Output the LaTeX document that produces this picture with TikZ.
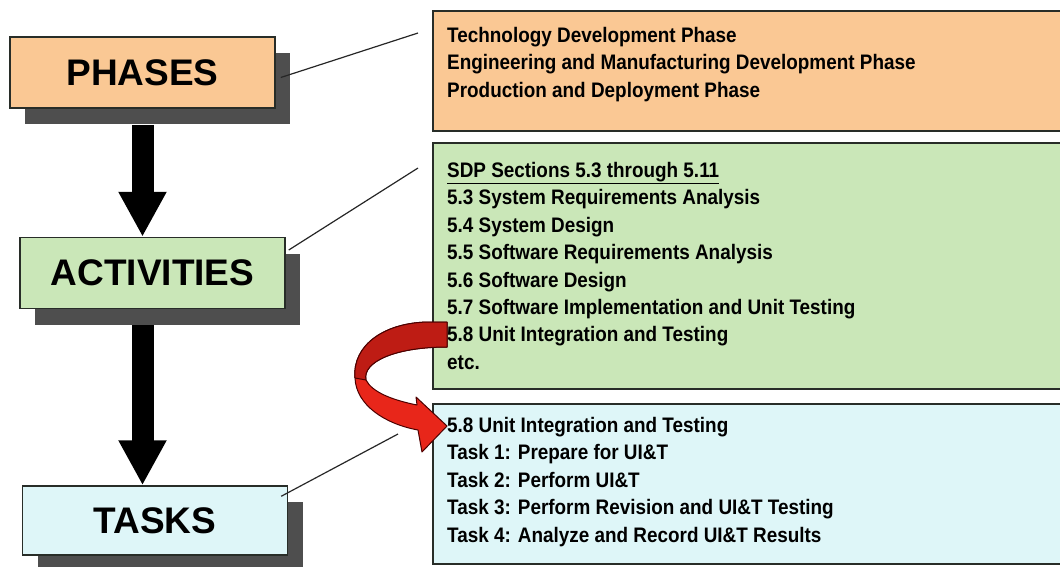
\documentclass[tikz,border=0pt]{standalone}
\usepackage{fontspec}
\setmainfont{Liberation Sans}[FakeStretch=0.9]
\newfontfamily\labelfont{Liberation Sans}
\usetikzlibrary{%
  arrows.meta,%
  shadows%
}
\definecolor{phaseorange}{RGB}{250,200,148}
\definecolor{actgreen}{RGB}{202,231,184}
\definecolor{taskblue}{RGB}{222,246,248}
\definecolor{shadowgray}{RGB}{78,78,78}
\definecolor{arrowred}{RGB}{232,38,26}
\definecolor{arrowdark}{RGB}{190,28,20}
\definecolor{boxline}{RGB}{40,45,40}

\begin{document}
\begin{tikzpicture}[x=1pt,y=-1pt,
    levelbox/.style={draw=boxline,line width=1.5pt,minimum width=265pt,minimum height=71pt,
      font=\labelfont\bfseries\fontsize{37}{40}\selectfont,
      drop shadow={shadow xshift=15pt,shadow yshift=-16pt,fill=shadowgray,opacity=1}},
    listbox/.style={draw=boxline,line width=2pt,anchor=north west,minimum width=640pt,inner sep=0pt},
    listtext/.style={anchor=north west,inner sep=0pt,align=left,
      font=\bfseries\fontsize{21}{27.4}\selectfont},
    leader/.style={line width=1.2pt,draw=black!85},
    bigarrow/.style={line width=22pt,-{Triangle[width=45pt,length=45pt]}},
    ribbon/.style={draw=black!70!red,line width=1pt,line join=round}]
  \useasboundingbox (0,0) rectangle (1060,566);
  \node[levelbox,fill=phaseorange] (phases) at (142.5,72.5) {PHASES};
  \node[levelbox,fill=actgreen] (activities) at (152.5,273) {ACTIVITIES};
  \node[levelbox,fill=taskblue,minimum height=69pt] (tasks) at (155,520.5) {TASKS};
  \node[listbox,fill=phaseorange,minimum height=120pt] (phasebox) at (432,10) {};
  \node[listbox,fill=actgreen,minimum height=246pt] (actbox) at (432,142) {};
  \node[listbox,fill=taskblue,minimum height=160pt] (taskbox) at (432,403) {};
  \node[listtext] (phaselist) at (447,27) {Technology Development Phase\\
    Engineering and Manufacturing Development Phase\\
    Production and Deployment Phase};
  \node[listtext] (actlist) at (447,162) {\underline{SDP Sections 5.3 through 5.11}\\
    5.3 System Requirements Analysis\\
    5.4 System Design\\
    5.5 Software Requirements Analysis\\
    5.6 Software Design\\
    5.7 Software Implementation and Unit Testing\\
    5.8 Unit Integration and Testing\\
    etc.};
  \node[listtext] (tasklist) at (447,417) {5.8 Unit Integration and Testing\\
    Task 1: Prepare for UI\&T\\
    Task 2: Perform UI\&T\\
    Task 3: Perform Revision and UI\&T Testing\\
    Task 4: Analyze and Record UI\&T Results};
  \coordinate (phaseend) at (418,33);
  \coordinate (actend) at (418,168);
  \coordinate (taskend) at (398,434);
  \draw[leader] ([shift={(5pt,-5pt)}]phases.east) -- (phaseend);
  \draw[leader] ([shift={(3pt,23pt)}]activities.east) -- (actend);
  \draw[leader] ([shift={(-7pt,-11pt)}]tasks.north east) -- (taskend);
  \coordinate (phasebottom) at ([yshift=-16pt]phases.south);
  \coordinate (actbottom) at ([yshift=-16pt]activities.south);
  \draw[bigarrow] (phasebottom) -- (phasebottom |- activities.north);
  \draw[bigarrow] (phasebottom |- actbottom) -- (phasebottom |- tasks.north);
  \filldraw[ribbon,fill=arrowred]
    (447,322) -- (430,322) .. controls (385,322) and (352,345) .. (355,378)
    .. controls (356,405) and (385,424) .. (418,430) -- (422,452) -- (447,426)
    -- (416,397) -- (417,405) .. controls (392,400) and (372,392) .. (366,380)
    .. controls (362,362) and (395,347) .. (447,347) -- cycle;
  \filldraw[ribbon,fill=arrowdark]
    (447,322) -- (430,322) .. controls (385,322) and (352,345) .. (355,378)
    -- (366,380) .. controls (362,362) and (395,347) .. (447,347) -- cycle;
\end{tikzpicture}
\end{document}
